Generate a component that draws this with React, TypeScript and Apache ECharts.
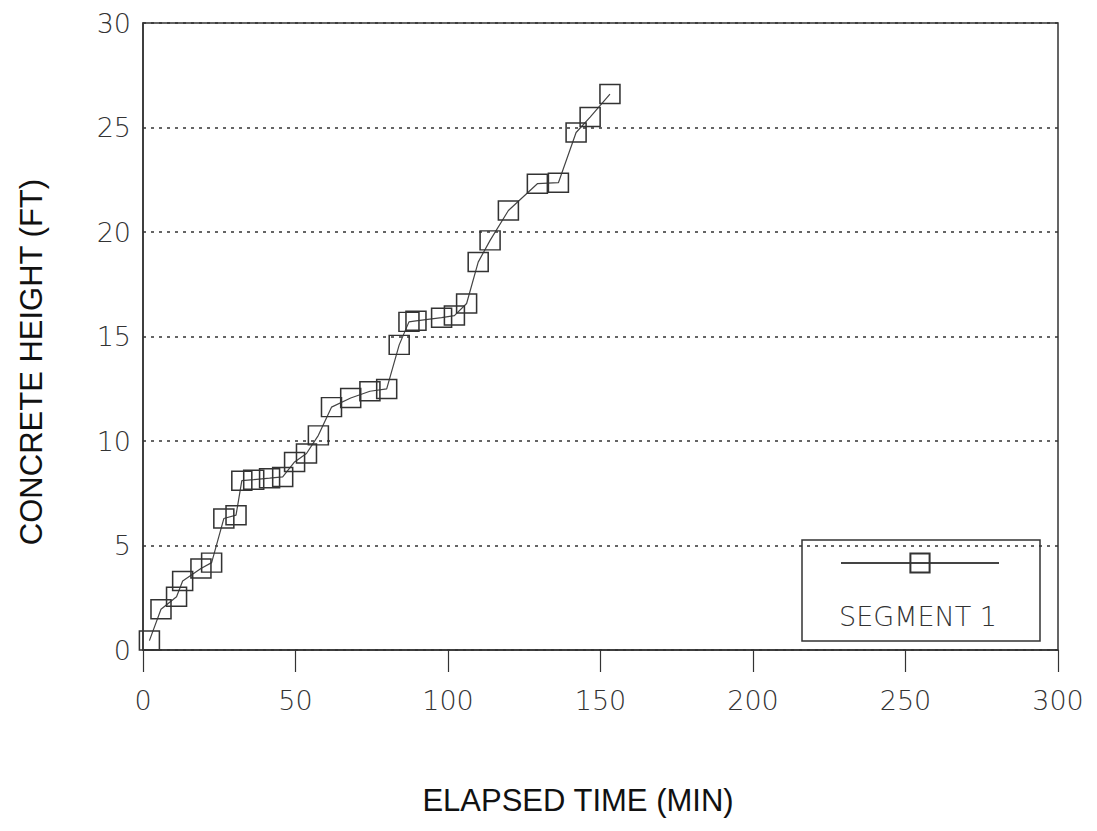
import React, { useEffect, useRef } from "react";
import * as echarts from "echarts";

const seriesName = "SEGMENT 1";
const timeMin = [2.1, 5.9, 11.0, 13.0, 19.0, 22.5, 26.5, 30.5, 32.4, 36.3, 41.5, 45.8, 49.7, 53.6, 57.5, 61.8, 68.1, 74.4, 79.9, 84.0, 87.2, 89.5, 97.9, 102.1, 106.1, 109.9, 113.8, 119.8, 129.3, 136.2, 142.0, 146.6, 153.1];
const heightFt = [0.45, 1.95, 2.55, 3.3, 3.9, 4.18, 6.29, 6.45, 8.1, 8.15, 8.22, 8.28, 9.0, 9.4, 10.27, 11.62, 12.06, 12.38, 12.49, 14.6, 15.7, 15.75, 15.9, 16.0, 16.58, 18.56, 19.6, 21.03, 22.31, 22.36, 24.76, 25.5, 26.6];
const xTicks = [0, 50, 100, 150, 200, 250, 300];
const yTicks = [0, 5, 10, 15, 20, 25, 30];
const xTitle = "ELAPSED TIME (MIN)";
const yTitle = "CONCRETE HEIGHT (FT)";

const tickFont = "'DejaVu Sans', sans-serif";
const titleFont = "'Liberation Sans', Arial, sans-serif";

export default function App() {
  const ref = useRef<HTMLDivElement>(null);
  useEffect(() => {
    document.body.style.margin = "0";
    if (!ref.current) return;
    const chart = echarts.init(ref.current, undefined, { renderer: "svg" });
    const data = timeMin.map((t, i) => [t, heightFt[i]]);
    chart.setOption({
      animation: false,
      backgroundColor: "#ffffff",
      grid: {
        left: 143,
        right: 39,
        top: 23,
        bottom: 181,
        show: true,
        borderColor: "#333",
        borderWidth: 1.5,
        backgroundColor: "transparent",
      },
      xAxis: {
        type: "value",
        min: xTicks[0],
        max: xTicks[xTicks.length - 1],
        interval: 50,
        axisLine: { lineStyle: { color: "#333", width: 1.5 } },
        axisTick: { show: true, inside: false, length: 22, lineStyle: { color: "#333", width: 1.2 } },
        axisLabel: { margin: 37, fontFamily: tickFont, fontWeight: 200, fontSize: 27, color: "#333" },
        splitLine: { show: false },
      },
      yAxis: {
        type: "value",
        min: yTicks[0],
        max: yTicks[yTicks.length - 1],
        interval: 5,
        axisLine: { show: true, lineStyle: { color: "#333", width: 1.5 } },
        axisTick: { show: false },
        axisLabel: { margin: 12, fontFamily: tickFont, fontWeight: 200, fontSize: 27, color: "#333" },
        splitLine: { show: true, lineStyle: { color: "#333", width: 1.5, type: [3, 5] } },
      },
      legend: {
        show: true,
        left: 840,
        top: 551,
        itemWidth: 158,
        itemHeight: 24,
        padding: 0,
        formatter: () => "",
        data: [seriesName],
      },
      graphic: [
        {
          type: "rect",
          shape: { x: 802, y: 540, width: 238, height: 101 },
          style: { fill: "none", stroke: "#333", lineWidth: 1.5 },
          z: 10,
        },
        {
          type: "text",
          x: 918,
          y: 616,
          style: {
            text: seriesName,
            fontFamily: tickFont,
            fontWeight: 200,
            fontSize: 27,
            fill: "#333",
            align: "center",
            verticalAlign: "middle",
          },
          z: 10,
        },
        {
          type: "text",
          x: 578,
          y: 800,
          style: {
            text: xTitle,
            fontFamily: titleFont,
            fontSize: 31,
            fill: "#111",
            align: "center",
            verticalAlign: "middle",
          },
        },
        {
          type: "text",
          x: 31,
          y: 362,
          rotation: Math.PI / 2,
          style: {
            text: yTitle,
            fontFamily: titleFont,
            fontSize: 31,
            fill: "#111",
            align: "center",
            verticalAlign: "middle",
          },
        },
      ],
      series: [
        {
          name: seriesName,
          type: "line",
          data,
          symbol: "rect",
          symbolSize: [20, 19],
          showAllSymbol: true,
          lineStyle: { color: "#444", width: 1.2 },
          itemStyle: { color: "rgba(255,255,255,0)", borderColor: "#333", borderWidth: 1.5 },
        },
      ],
    });
    return () => chart.dispose();
  }, []);
  return <div ref={ref} style={{ width: 1097, height: 831 }} />;
}
